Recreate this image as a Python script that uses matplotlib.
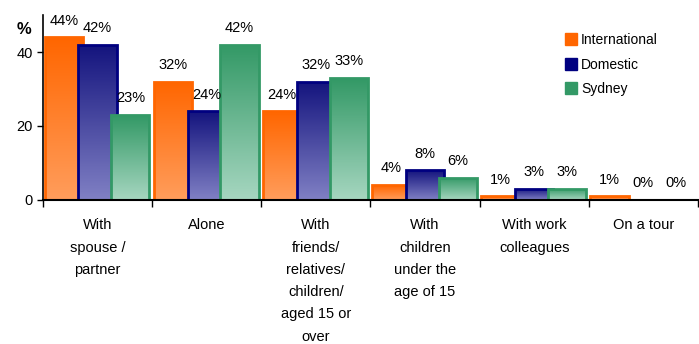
import numpy as np
import matplotlib
matplotlib.use('Agg')
import matplotlib.pyplot as plt
from matplotlib.lines import Line2D
from matplotlib.colors import LinearSegmentedColormap

plt.rcParams['font.family'] = ['Liberation Sans', 'DejaVu Sans']

categories = ['With\nspouse /\npartner', 'Alone',
              'With\nfriends/\nrelatives/\nchildren/\naged 15 or\nover',
              'With\nchildren\nunder the\nage of 15',
              'With work\ncolleagues', 'On a tour']
series = ['International', 'Domestic', 'Sydney']
international = [44, 32, 24, 4, 1, 1]
domestic = [42, 24, 32, 8, 3, 0]
sydney = [23, 42, 33, 6, 3, 0]

# edge color, top of gradient, bottom of gradient
styles = [('#FF6600', '#FF6600', '#FF9D5C'),
          ('#000080', '#14147E', '#8080C4'),
          ('#339966', '#339966', '#A6D6C0')]

fig = plt.figure(figsize=(6.99, 3.44), dpi=100)
ax = fig.add_axes([0.0615, 0.419, 0.937, 0.537])

x = np.arange(len(categories))
offsets = [-0.31, 0.0, 0.30]
width = 0.35
grad = np.linspace(0, 1, 100).reshape(-1, 1)

for k, (vals, off, st) in enumerate(zip([international, domestic, sydney], offsets, styles)):
    edge, top, bottom = st
    cmap = LinearSegmentedColormap.from_list('g', [top, bottom])
    lws = [2.0 if v > 0 else 0 for v in vals]
    bars = ax.bar(x + off, vals, width, color='none', edgecolor=edge,
                  linewidth=lws, zorder=2.5 + k)
    for b, v in zip(bars, vals):
        if v > 0:
            x0 = b.get_x()
            im = ax.imshow(grad, cmap=cmap, aspect='auto',
                           extent=[x0, x0 + width, 0, v], origin='upper',
                           zorder=2 + k)
            im.set_clip_path(b)
        ax.annotate('%d%%' % v, (b.get_x() + width / 2, v),
                    xytext=(0, 12), textcoords='offset points',
                    ha='center', va='center', fontsize=10.5, zorder=6)

ax.set_xlim(-0.5, 5.5)
ax.set_ylim(0, 50)
ax.set_yticks([0, 20, 40])
ax.tick_params(axis='y', labelsize=10.5, length=4, width=1, direction='out')
ax.set_xticks(np.arange(len(categories) + 1) - 0.5)
ax.set_xticklabels([])
ax.tick_params(axis='x', length=5, width=1, direction='out')
for i, c in enumerate(categories):
    ax.text(i, -0.1, c, transform=ax.get_xaxis_transform(), ha='center',
            va='top', fontsize=10.5, linespacing=1.75)

ax.spines['top'].set_visible(False)
ax.spines['right'].set_visible(False)
ax.spines['bottom'].set_linewidth(1.5)
ax.spines['bottom'].set_zorder(7)
ax.spines['left'].set_linewidth(1.2)

fig.text(0.035, 0.915, '%', fontsize=12, fontweight='bold', ha='center',
         va='center')

handles = [Line2D([], [], marker='s', linestyle='none', markersize=9,
                  markerfacecolor=s[0], markeredgecolor=s[0]) for s in styles]
ax.legend(handles, series, loc='upper left', bbox_to_anchor=(0.775, 0.97),
          frameon=False, fontsize=10, handletextpad=0.1, labelspacing=0.75,
          handlelength=1.2)

fig.savefig('out.png', dpi=100)
